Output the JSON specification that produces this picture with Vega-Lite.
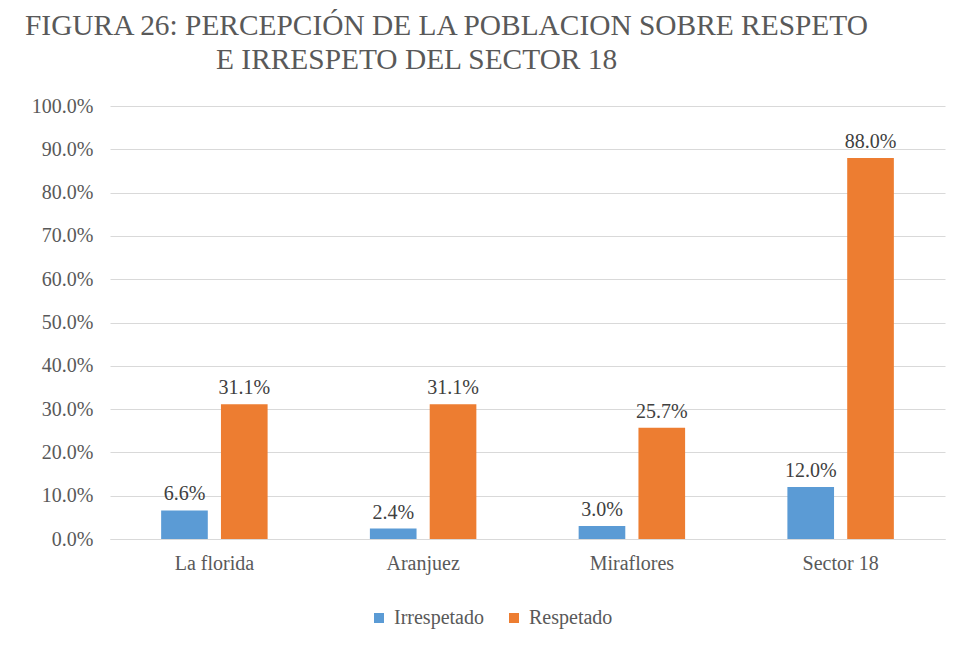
{
  "$schema": "https://vega.github.io/schema/vega-lite/v6.json",
  "width": 835,
  "height": 433,
  "autosize": "none",
  "padding": {"left": 110, "top": 106, "right": 19, "bottom": 109},
  "background": "white",
  "title": {
    "text": ["FIGURA 26: PERCEPCIÓN DE LA POBLACION SOBRE RESPETO", "\u200b\u00a0\u00a0\u00a0\u00a0\u00a0\u00a0\u00a0\u00a0\u00a0\u00a0\u00a0\u00a0\u00a0\u00a0\u00a0\u00a0\u00a0\u00a0\u00a0\u00a0\u00a0\u00a0\u00a0\u00a0\u00a0\u00a0E IRRESPETO DEL SECTOR 18"],
    "anchor": "start",
    "frame": "group",
    "dx": -85,
    "offset": 21,
    "font": "Liberation Serif",
    "fontSize": 29.4,
    "fontWeight": "normal",
    "color": "#595959",
    "lineHeight": 34
  },
  "data": {
    "values": [
      {"lugar": "La florida", "tipo": "Irrespetado", "valor": 0.066},
      {"lugar": "La florida", "tipo": "Respetado", "valor": 0.311},
      {"lugar": "Aranjuez", "tipo": "Irrespetado", "valor": 0.024},
      {"lugar": "Aranjuez", "tipo": "Respetado", "valor": 0.311},
      {"lugar": "Miraflores", "tipo": "Irrespetado", "valor": 0.030},
      {"lugar": "Miraflores", "tipo": "Respetado", "valor": 0.257},
      {"lugar": "Sector 18", "tipo": "Irrespetado", "valor": 0.120},
      {"lugar": "Sector 18", "tipo": "Respetado", "valor": 0.880}
    ]
  },
  "encoding": {
    "x": {
      "field": "lugar", "type": "nominal", "sort": null, "title": null,
      "scale": {"paddingInner": 0.49, "paddingOuter": 0.245},
      "axis": {"labelAngle": 0, "ticks": false, "domainColor": "#d9d9d9", "labelFont": "Liberation Serif", "labelFontSize": 20, "labelColor": "#595959", "labelPadding": 14}
    },
    "xOffset": {"field": "tipo", "type": "nominal", "scale": {"paddingInner": 0.22, "paddingOuter": 0}},
    "y": {
      "field": "valor", "type": "quantitative", "title": null,
      "scale": {"domain": [0, 1]},
      "axis": {"format": ".1%", "values": [0, 0.1, 0.2, 0.3, 0.4, 0.5, 0.6, 0.7, 0.8, 0.9, 1.0], "ticks": false, "domain": false, "gridColor": "#d9d9d9", "labelFont": "Liberation Serif", "labelFontSize": 20, "labelColor": "#595959", "labelPadding": 17}
    }
  },
  "layer": [
    {
      "mark": {"type": "bar"},
      "encoding": {
        "color": {
          "field": "tipo", "type": "nominal", "title": null,
          "scale": {"domain": ["Irrespetado", "Respetado"], "range": ["#5b9bd5", "#ed7d31"]},
          "legend": {"orient": "none", "legendX": 259, "legendY": 502, "direction": "horizontal", "symbolType": "square", "symbolSize": 100, "symbolStrokeWidth": 0, "labelFont": "Liberation Serif", "labelFontSize": 20, "labelColor": "#595959", "labelOffset": 5, "columnPadding": 20}
        }
      }
    },
    {
      "mark": {"type": "text", "dy": -16, "font": "Liberation Serif", "fontSize": 20, "color": "#404040"},
      "encoding": {
        "text": {"field": "valor", "type": "quantitative", "format": ".1%"}
      }
    }
  ],
  "config": {"view": {"stroke": null}, "font": "Liberation Serif"}
}
